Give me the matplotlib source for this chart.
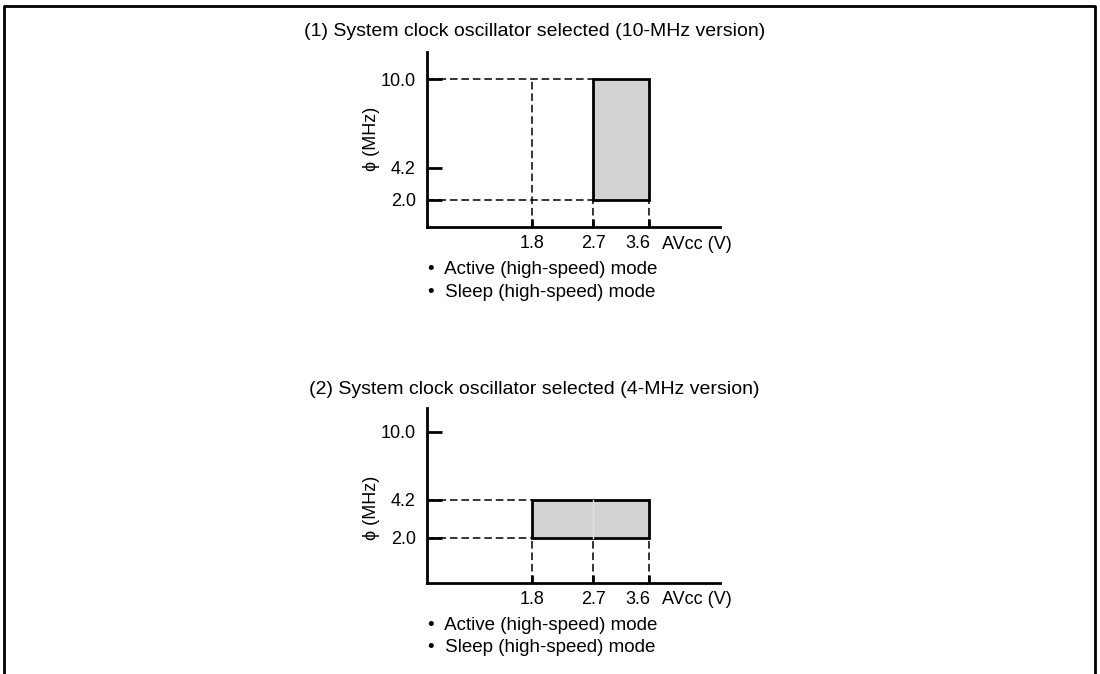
import matplotlib
matplotlib.use("Agg")
import matplotlib.pyplot as plt
import matplotlib.transforms as mtransforms
import numpy as np

plt.rcParams['font.family'] = ['Liberation Sans', 'DejaVu Sans']

# operating ranges
volt_ticks = [1.8, 2.7, 3.6]
freq_ticks = [2.0, 4.2, 10.0]

titles = ["(1) System clock oscillator selected (10-MHz version)",
          "(2) System clock oscillator selected (4-MHz version)"]
modes = ["•  Active (high-speed) mode", "•  Sleep (high-speed) mode"]

# operating region (vmin, vmax, fmin, fmax) per panel
region_10mhz = (2.7, 3.6, 2.0, 10.0)
region_4mhz = (1.8, 3.6, 2.0, 4.2)

# drawn tick marks on the y axis per panel
yticks_10mhz = [2.0, 4.2, 10.0]
yticks_4mhz = [2.0, 4.2, 10.0]


def piecewise(vals, pos):
    """schematic (non uniform) axis scale"""
    vals = np.asarray(vals, float)
    pos = np.asarray(pos, float)

    def fwd(v):
        return np.interp(v, vals, pos)

    def inv(p):
        return np.interp(p, pos, vals)
    return fwd, inv


x_scale = piecewise([0, 1.8, 2.7, 3.6, 5.0], [0, 105, 166, 222, 293])
y_scale_top = piecewise([0, 2.0, 4.2, 10.0, 12.0], [0, 27, 59, 148, 175])
y_scale_bot = piecewise([0, 2.0, 4.2, 10.0, 12.0], [0, 45, 83, 151, 175])

fig = plt.figure(figsize=(11, 6.74), dpi=100)
W, H = 1100, 674

# frame around the figure (open at the bottom)
fig.add_artist(plt.Line2D([4 / W, 4 / W, 1095 / W, 1095 / W],
                          [0, 1 - 6 / H, 1 - 6 / H, 0],
                          transform=fig.transFigure, color='black', lw=2))


def draw_panel(top_px, title, region, yticks, yscale, ylabel_center, title_y):
    ax = fig.add_axes([427 / W, 1 - (top_px + 175) / H, 293 / W, 175 / H])
    ax.set_xscale('function', functions=x_scale)
    ax.set_yscale('function', functions=yscale)
    ax.set_xlim(0, 5.0)
    ax.set_ylim(0, 12.0)
    for s in ['top', 'right']:
        ax.spines[s].set_visible(False)
    for s in ['left', 'bottom']:
        ax.spines[s].set_linewidth(2.0)

    v0, v1, f0, f1 = region
    dash = dict(color='black', lw=1.1, ls=(0, (5, 2.5)))
    # horizontal guides from the axis to the region
    for f in sorted(set([f0, f1])):
        ax.plot([0, v0], [f, f], **dash)
    # vertical guides from the axis up to the region
    for v in volt_ticks:
        if v < v0:
            top = max(f for f in freq_ticks if f <= f1)
            ax.plot([v, v], [0, top], **dash)
        else:
            ax.plot([v, v], [0, f0], **dash)

    ax.fill([v0, v1, v1, v0, v0], [f0, f0, f1, f1, f0],
            facecolor='#d3d3d3', edgecolor='black', lw=2, zorder=3)
    # faint seam inside the region
    for v in volt_ticks:
        if v0 < v < v1:
            ax.plot([v, v], [f0, f1], color='#dfdfdf', lw=1, zorder=4)

    ax.set_xticks(volt_ticks)
    ax.set_xticklabels([f"{v:.1f}" for v in volt_ticks])
    ax.set_yticks(yticks)
    ax.set_yticklabels([f"{f:.1f}" for f in yticks])
    ax.tick_params(axis='x', direction='in', length=6, width=2,
                   labelsize=13, pad=6)
    ax.tick_params(axis='y', direction='in', length=11, width=2,
                   labelsize=13, pad=8)
    ax.minorticks_off()
    # last voltage label sits a little left of its tick
    lab = ax.get_xticklabels()[-1]
    lab.set_transform(lab.get_transform() +
                      mtransforms.ScaledTranslation(-11 / 100, 0,
                                                    fig.dpi_scale_trans))

    ax.text(0.5 * (302 + 767) / W, 1 - title_y / H, title,
            transform=fig.transFigure, ha='center', va='center', fontsize=14)
    ax.text(372 / W, 1 - ylabel_center / H, "ϕ (MHz)", rotation=90,
            transform=fig.transFigure, ha='center', va='center', fontsize=13)
    ax.text(662 / W, 1 - (top_px + 192) / H, "AVcc (V)",
            transform=fig.transFigure, ha='left', va='center', fontsize=13)
    for i, m in enumerate(modes):
        ax.text(428 / W, 1 - (top_px + 218 + 22 * i) / H, m,
                transform=fig.transFigure, ha='left', va='center',
                fontsize=13.5)
    return ax


draw_panel(52, titles[0], region_10mhz, yticks_10mhz, y_scale_top, 139, 32)
draw_panel(408, titles[1], region_4mhz, yticks_4mhz, y_scale_bot, 508, 390)

fig.savefig("out.png", dpi=100)
